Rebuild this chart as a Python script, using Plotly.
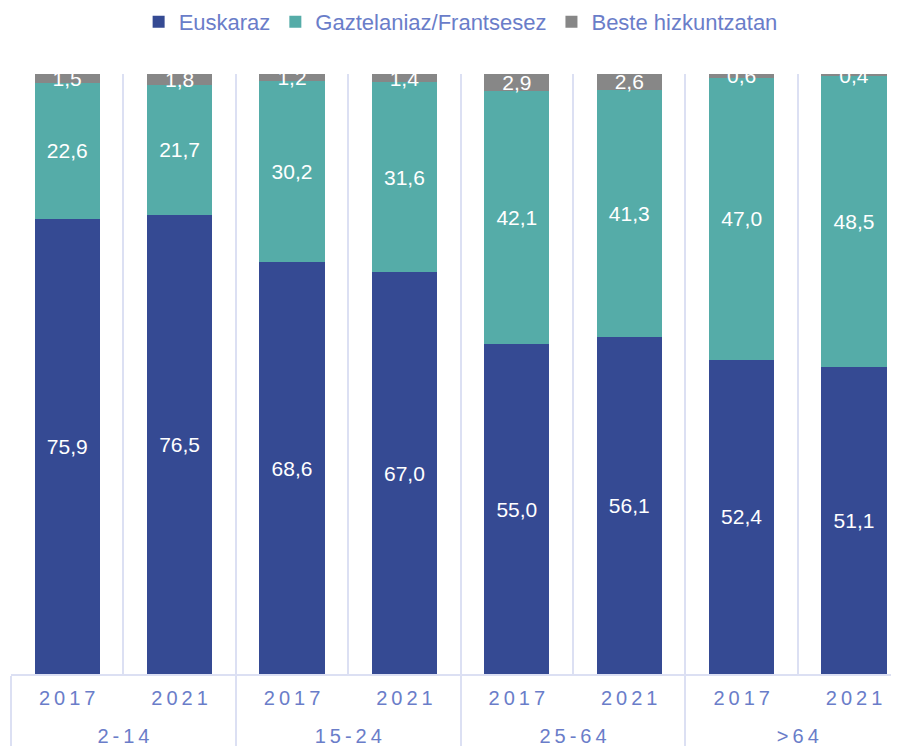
import plotly.graph_objects as go

age_groups = ["2-14", "15-24", "25-64", ">64"]
years = ["2017", "2021"]
series_names = ["Euskaraz", "Gaztelaniaz/Frantsesez", "Beste hizkuntzatan"]
euskaraz = [75.9, 76.5, 68.6, 67.0, 55.0, 56.1, 52.4, 51.1]
gaztelaniaz = [22.6, 21.7, 30.2, 31.6, 42.1, 41.3, 47.0, 48.5]
beste = [1.5, 1.8, 1.2, 1.4, 2.9, 2.6, 0.6, 0.4]
colors = ["#354A93", "#55ACA8", "#878787"]

FONT = "Liberation Sans, Arial, Helvetica, sans-serif"
LABEL_COLOR = "#6A7DC9"
GRID_COLOR = "#DCE0F3"

# invisible padding that makes the first label row taller (pushes the group row down)
PAD = "<span style='font-size:36px'>\u200a</span>"


def spaced(s):
    return "\u2009".join(s)


x = [
    [spaced(g) for g in age_groups for _ in years],
    [PAD + spaced(y) + PAD for _ in age_groups for y in years],
]

fig = go.Figure()
for name, vals, col in zip(series_names, [euskaraz, gaztelaniaz, beste], colors):
    fig.add_trace(
        go.Bar(
            x=x,
            y=vals,
            name=name,
            marker=dict(color=col, line=dict(width=0)),
            texttemplate="%{y:.1f}",
            textposition="inside",
            insidetextanchor="middle",
            constraintext="none",
            textangle=0,
            cliponaxis=True,
            textfont=dict(family=FONT, size=21, color="white"),
        )
    )

fig.update_layout(
    barmode="stack",
    bargap=0.42,
    separators=",.",
    width=891,
    height=738,
    margin=dict(l=3, r=0, t=66, b=70),
    paper_bgcolor="white",
    plot_bgcolor="white",
    font=dict(family=FONT, color=LABEL_COLOR),
    showlegend=True,
    legend=dict(
        orientation="h",
        xref="container",
        yref="container",
        x=0.508,
        xanchor="center",
        y=0.981,
        yanchor="middle",
        font=dict(family=FONT, size=22, color=LABEL_COLOR),
        traceorder="normal",
    ),
    xaxis=dict(
        type="multicategory",
        range=[-0.5, 7.4],
        tickson="boundaries",
        showgrid=True,
        gridcolor=GRID_COLOR,
        gridwidth=2,
        ticks="",
        ticklabelstandoff=5,
        showdividers=True,
        dividercolor=GRID_COLOR,
        dividerwidth=2,
        showline=True,
        linecolor=GRID_COLOR,
        linewidth=2,
        tickfont=dict(family=FONT, size=20, color=LABEL_COLOR),
        zeroline=False,
    ),
    yaxis=dict(
        range=[0, 100],
        showgrid=False,
        showticklabels=False,
        zeroline=False,
        showline=False,
    ),
)

fig.write_html("out.html")
